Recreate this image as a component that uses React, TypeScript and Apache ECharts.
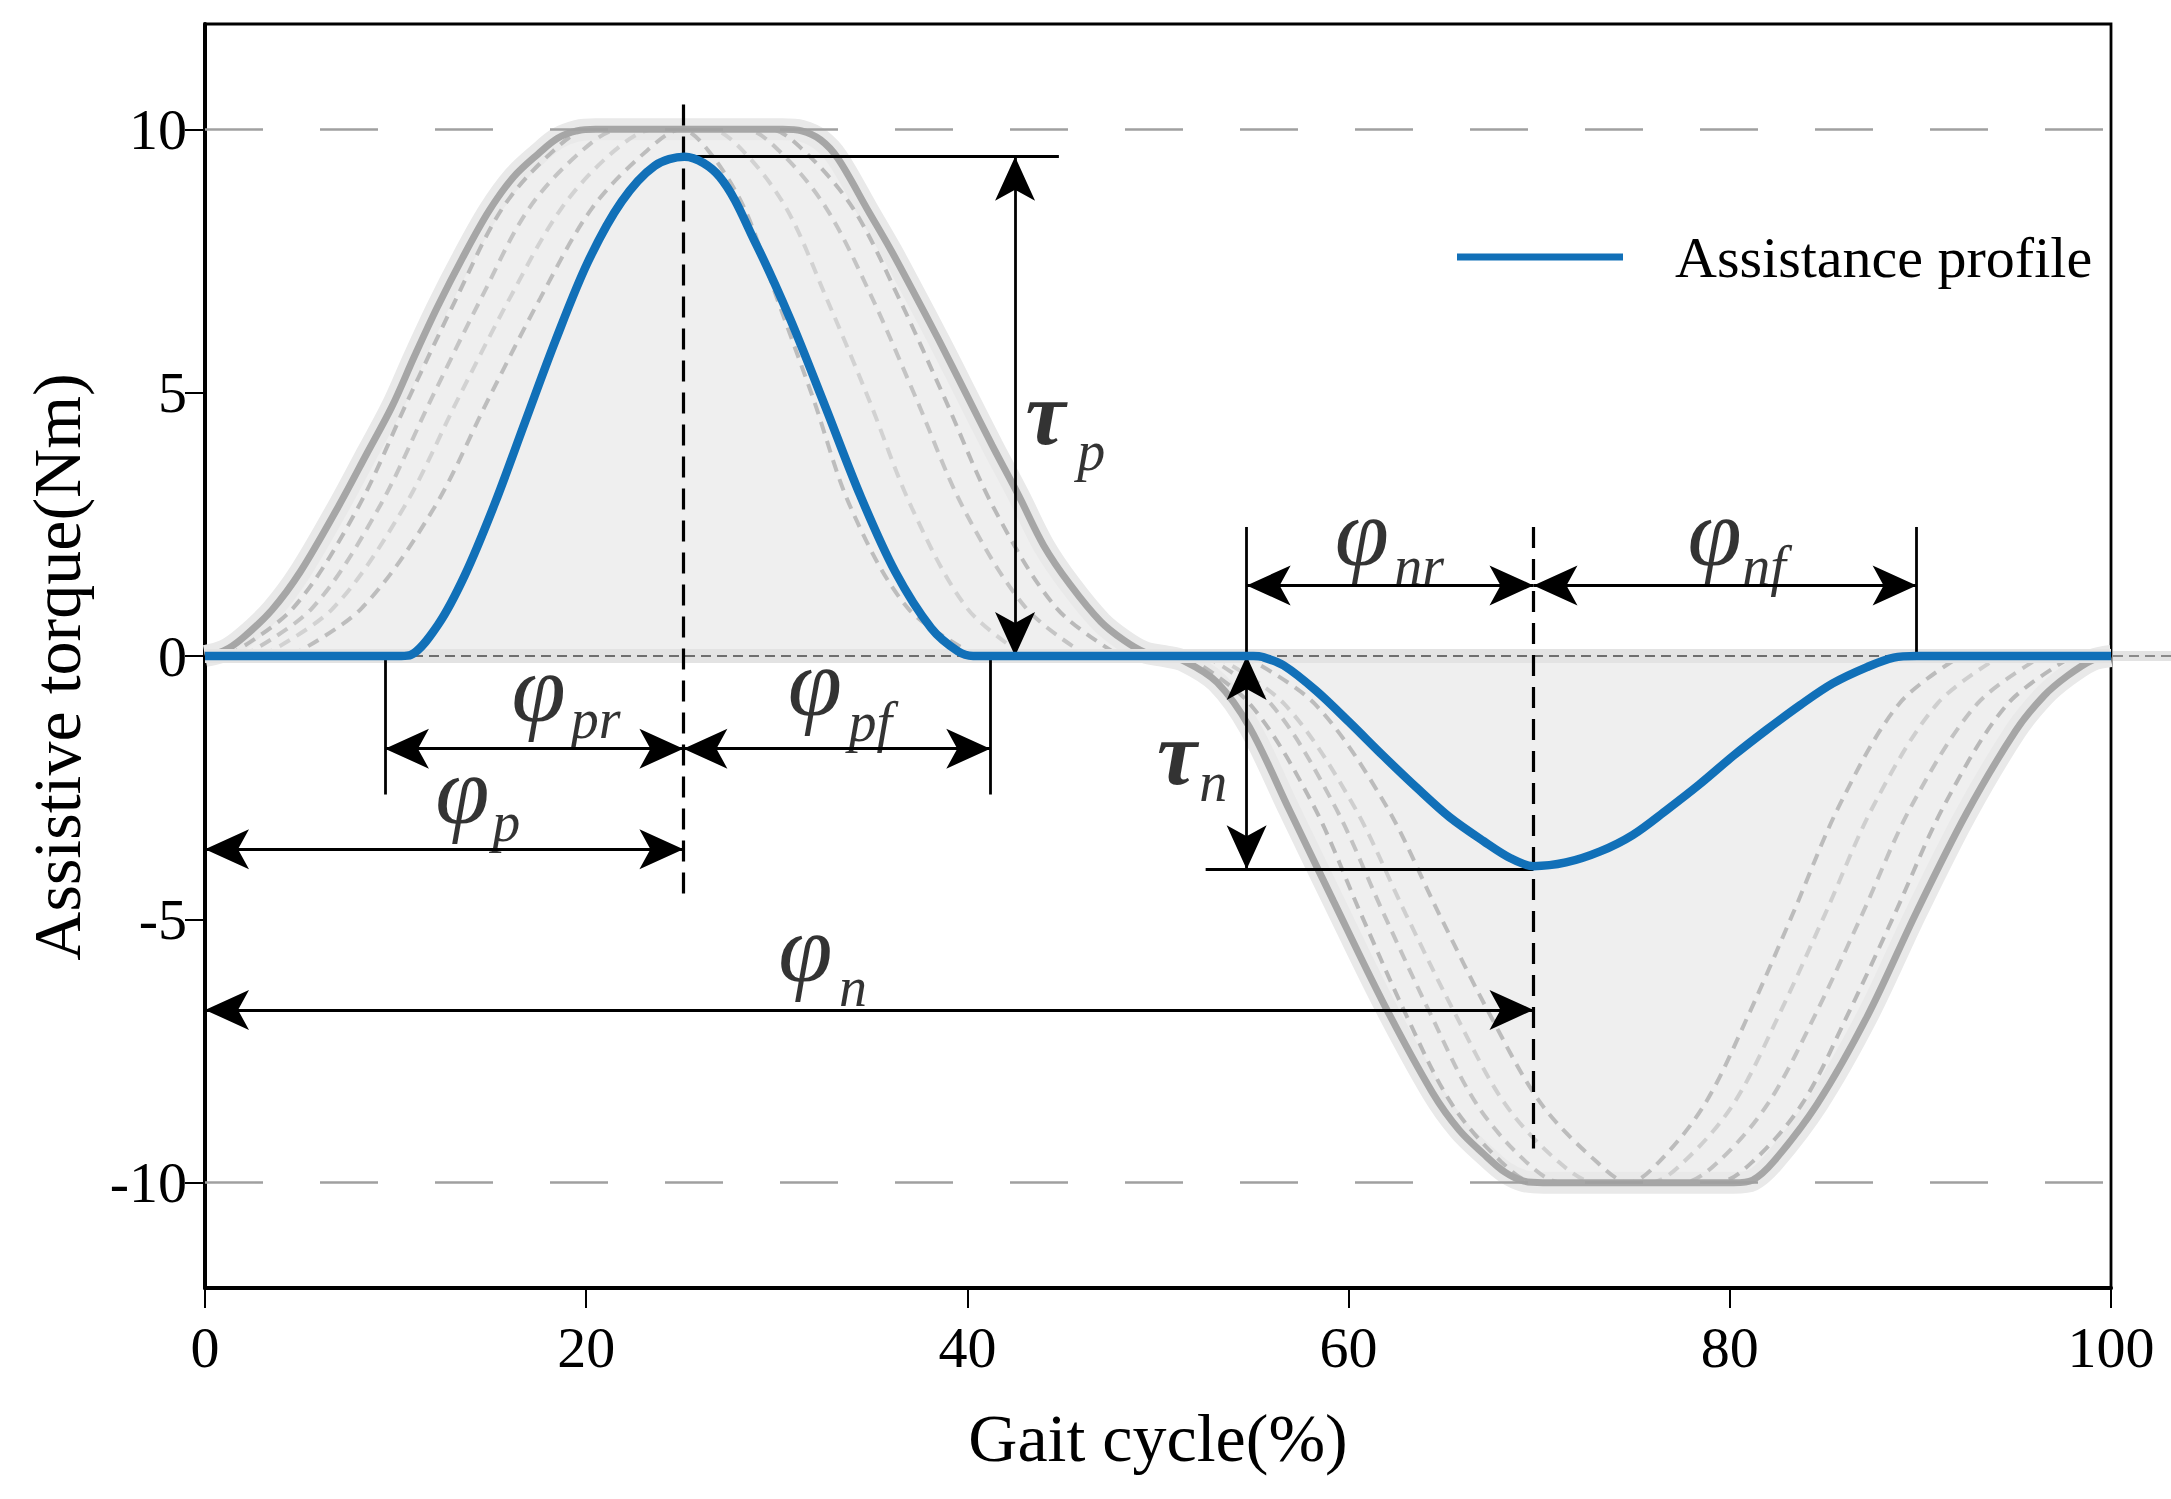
import React, { useEffect, useRef } from 'react';
import * as echarts from 'echarts';

const FONT = "'Times New Roman', 'Liberation Serif', serif";

const xTicks = [0, 20, 40, 60, 80, 100];
const yTicks = [-10, -5, 0, 5, 10];

// Assistance profile (blue)
const assistance = [
  [0, 0], [9.5, 0], [10.3, 0], [10.8, 0.02], [12.24, 0.6], [13.64, 1.54], [15.2, 2.89], [16.8, 4.45], [18.4, 6.0],
  [20.1, 7.49], [21.86, 8.63], [23.6, 9.31], [25.15, 9.48], [27.0, 9.1], [28.9, 7.83], [30.7, 6.4],
  [32.55, 4.73], [34.4, 3.03], [36.2, 1.61], [38.1, 0.53], [39.5, 0.09], [40.3, 0], [41.0, 0],
  [54.2, 0], [55.0, 0], [55.5, -0.02], [56.6, -0.18], [58.3, -0.66], [60.1, -1.28], [61.8, -1.89], [63.6, -2.51],
  [65.3, -3.06], [67.1, -3.52], [68.5, -3.84], [69.7, -3.99], [71.4, -3.92], [73.2, -3.71],
  [74.9, -3.4], [76.7, -2.92], [78.4, -2.44], [80.2, -1.89], [81.9, -1.41], [83.7, -0.93],
  [85.4, -0.52], [87.2, -0.21], [88.6, -0.03], [89.8, 0], [90.5, 0], [100, 0],
];

// Outer envelope of the admissible profiles (solid grey)
const envelope = [
  [0, 0], [1, 0.1], [2, 0.35], [3.5, 0.87], [5, 1.6], [7, 2.84], [8.5, 3.85], [9.8, 4.73], [11, 5.7],
  [12.2, 6.63], [13.5, 7.55], [14.9, 8.45], [16.2, 9.1], [17.5, 9.54], [18.5, 9.83], [19.5, 9.97],
  [20.5, 10], [30.3, 10], [31.3, 9.97], [32.3, 9.8], [33.2, 9.45], [34.8, 8.45], [36, 7.7],
  [37.1, 6.96], [38.5, 6.0], [39.9, 5.0], [41.3, 4.0], [42.7, 3.04], [44, 2.1], [45.4, 1.35],
  [47, 0.65], [48.2, 0.3], [49.3, 0.07], [50.3, 0], [51.4, -0.1], [53.1, -0.5], [54.8, -1.35],
  [56.9, -2.93], [59.2, -4.65], [61.8, -6.57], [64.4, -8.29], [65.8, -9.0], [67.1, -9.46],
  [68.2, -9.8], [69.2, -9.97], [70.2, -10], [80.2, -10], [81.2, -9.95], [82.3, -9.6], [84.6, -8.5],
  [87.2, -6.85], [89.8, -4.86], [92.4, -3.0], [95, -1.42], [96.5, -0.75], [97.7, -0.38],
  [99, -0.08], [100, 0],
];

// Sample profiles (dashed grey)
const dashedUp1 = [[1.2, 0], [4.6, 0.9], [8.0, 2.8], [10.7, 4.9], [13.2, 6.8], [15.6, 8.5], [18.3, 9.6], [20.2, 10], [29.6, 10], [31.4, 9.6], [34.0, 8.5], [36.4, 6.8], [38.8, 4.9], [41.4, 2.8], [44.7, 0.9], [48, 0]];
const dashedUp2 = [[2, 0], [5.6, 0.9], [9.1, 2.8], [11.9, 4.9], [14.5, 6.8], [17.0, 8.5], [19.8, 9.6], [21.8, 10], [28.3, 10], [30.1, 9.6], [32.6, 8.5], [35.0, 6.8], [37.3, 4.9], [39.8, 2.8], [43.1, 0.9], [46.3, 0]];
const dashedUp3 = [[3, 0], [6.7, 0.9], [10.4, 2.8], [13.3, 4.9], [16.0, 6.8], [18.7, 8.5], [21.5, 9.6], [23.6, 10], [26.5, 10], [28.2, 9.6], [30.5, 8.5], [32.6, 6.8], [34.8, 4.9], [37.1, 2.8], [40.0, 0.9], [43.0, 0]];
const dashedUp4 = [[4.5, 0], [8.2, 0.9], [12.0, 2.8], [14.9, 4.9], [17.6, 6.8], [20.3, 8.5], [23.2, 9.6], [25, 10], [26.4, 9.6], [28.3, 8.5], [30.0, 6.8], [31.9, 4.9], [33.9, 2.8], [36.9, 0.9], [40.5, 0]];
const dashedDown1 = [[51.5, 0], [54.8, -0.9], [58.1, -2.8], [60.65, -4.9], [63.0, -6.8], [65.4, -8.5], [68.0, -9.6], [69.8, -10], [79.3, -10], [81.2, -9.6], [83.8, -8.5], [86.2, -6.8], [88.65, -4.9], [91.3, -2.8], [94.6, -0.9], [98, 0]];
const dashedDown2 = [[52.5, 0], [55.9, -0.9], [59.2, -2.8], [61.85, -4.9], [64.3, -6.8], [66.7, -8.5], [69.3, -9.6], [71.2, -10], [77.5, -10], [79.4, -9.6], [82.0, -8.5], [84.5, -6.8], [86.95, -4.9], [89.6, -2.8], [93.0, -0.9], [96.4, 0]];
const dashedDown3 = [[53, 0], [56.6, -0.9], [60.2, -2.8], [63.0, -4.9], [65.6, -6.8], [68.2, -8.5], [71.0, -9.6], [73.0, -10], [75.8, -10], [77.6, -9.6], [80.2, -8.5], [82.6, -6.8], [85.0, -4.9], [87.6, -2.8], [90.9, -0.9], [94.2, 0]];
const dashedDown4 = [[54.5, 0], [58.2, -0.9], [61.9, -2.8], [64.75, -4.9], [67.4, -6.8], [70.1, -8.5], [73.0, -9.6], [74.7, -10], [76.3, -9.6], [78.7, -8.5], [81.0, -6.8], [83.3, -4.9], [85.8, -2.8], [88.9, -0.9], [92.1, 0]];
const dashedProfiles = [dashedUp1, dashedUp2, dashedUp3, dashedUp4, dashedDown1, dashedDown2, dashedDown3, dashedDown4];
const dashedColors = ['#b9b9b9', '#c4c4c4', '#d2d2d2', '#bdbdbd', '#b8b8b8', '#c2c2c2', '#cfcfcf', '#bcbcbc'];

// Annotation geometry (data coordinates): [x1, y1, x2, y2]
const doubleArrows = [
  [42.5, 9.48, 42.5, 0],      // tau_p
  [9.44, -1.76, 25.1, -1.76], // phi_pr
  [25.1, -1.76, 41.2, -1.76], // phi_pf
  [0, -3.67, 25.1, -3.67],    // phi_p
  [0, -6.72, 69.7, -6.72],    // phi_n
  [54.65, 0, 54.65, -4.05],   // tau_n
  [54.65, 1.34, 69.7, 1.34],  // phi_nr
  [69.7, 1.34, 89.8, 1.34],   // phi_nf
];
const plainLines = [
  [25.2, 9.48, 44.8, 9.48],
  [52.5, -4.05, 69.7, -4.05],
  [9.44, 0, 9.44, -2.63],
  [41.2, 0, 41.2, -2.63],
  [54.65, 2.45, 54.65, 0],
  [89.8, 2.45, 89.8, 0],
];
const dashedGuides = [
  [25.1, 10.47, 25.1, -4.57],
  [69.7, 2.45, 69.7, -9.35],
];

// Labels: [text, x, y, bold]
const mainSymbols: [string, number, number, boolean][] = [
  ['τ', 44.1, 4.6, true],
  ['φ', 17.5, -0.6, false],
  ['φ', 32.0, -0.5, false],
  ['φ', 13.5, -2.55, false],
  ['φ', 31.5, -5.55, false],
  ['τ', 51.0, -1.85, true],
  ['φ', 60.7, 2.35, false],
  ['φ', 79.2, 2.35, false],
];
const subSymbols: [string, number, number][] = [
  ['p', 46.5, 3.9],
  ['pr', 20.5, -1.2],
  ['pf', 34.9, -1.25],
  ['p', 15.8, -3.15],
  ['n', 34.0, -6.28],
  ['n', 52.9, -2.39],
  ['nr', 63.7, 1.7],
  ['nf', 81.8, 1.7],
];

const ARW: [number, number] = [30, 44];
const arrowEnd = (x: number, y: number) => ({ coord: [x, y], symbol: 'arrow', symbolSize: ARW });
const plainEnd = (x: number, y: number) => ({ coord: [x, y], symbol: 'none' });

export default function App() {
  const ref = useRef<HTMLDivElement>(null);
  useEffect(() => {
    if (!ref.current) return;
    const chart = echarts.init(ref.current, null, { renderer: 'svg' });

    const axisLabel = { fontFamily: FONT, fontSize: 58, color: '#000' };
    const SMOOTH = 0.33;

    const series: any[] = [];
    series.push({
      type: 'line', data: envelope, smooth: SMOOTH, symbol: 'none', silent: true, z: 1,
      lineStyle: { color: '#e9e9e9', width: 22 },
      areaStyle: { color: '#efefef', opacity: 1 },
    });
    series.push({
      type: 'line', data: [], z: 2, silent: true,
      markLine: {
        silent: true, symbol: ['none', 'none'], label: { show: false }, animation: false,
        data: [
          { yAxis: 0, lineStyle: { color: '#e3e3e3', width: 14, type: 'solid' } },
          { yAxis: 10, lineStyle: { color: '#a0a0a0', width: 2.5, type: [58, 57] } },
          { yAxis: -10, lineStyle: { color: '#a0a0a0', width: 2.5, type: [58, 57] } },
        ],
      },
    });
    dashedProfiles.forEach((d, i) => {
      series.push({
        type: 'line', data: d, smooth: SMOOTH, symbol: 'none', silent: true, z: 3,
        lineStyle: { color: dashedColors[i], width: 4, type: [12, 8] },
      });
    });
    series.push({
      type: 'line', data: envelope, smooth: SMOOTH, symbol: 'none', silent: true, z: 4,
      lineStyle: { color: '#a6a6a6', width: 7 },
    });
    series.push({
      type: 'line', data: [], z: 5, silent: true,
      markLine: {
        silent: true, symbol: ['none', 'none'], label: { show: false }, animation: false,
        data: [{ yAxis: 0, lineStyle: { color: '#6e6e6e', width: 2, type: [10, 6] } }],
      },
    });
    series.push({
      name: 'Assistance profile', type: 'line', data: assistance, smooth: SMOOTH, symbol: 'none', z: 6,
      lineStyle: { color: '#1170b8', width: 8.5 }, itemStyle: { color: '#1170b8' },
    });
    series.push({
      type: 'line', data: [], z: 7, silent: true,
      markLine: {
        silent: true, symbol: ['none', 'none'], label: { show: false }, animation: false,
        lineStyle: { color: '#000', width: 2.8, type: 'solid' },
        data: [
          ...doubleArrows.map((a) => [arrowEnd(a[0], a[1]), arrowEnd(a[2], a[3])]),
          ...plainLines.map((a) => [plainEnd(a[0], a[1]), plainEnd(a[2], a[3])]),
          ...dashedGuides.map((a) => [
            { ...plainEnd(a[0], a[1]), lineStyle: { type: [21, 11], width: 3.2, color: '#000' } },
            plainEnd(a[2], a[3]),
          ]),
        ],
      },
    });
    series.push({
      type: 'scatter', symbolSize: 0, z: 8, silent: true,
      data: mainSymbols.map((m) => ({
        value: [m[1], m[2]],
        label: {
          show: true, position: 'inside', formatter: m[0], fontFamily: FONT, fontStyle: 'italic',
          fontWeight: m[3] ? 'bold' : 'normal', fontSize: m[3] ? 90 : 98, color: '#000',
        },
      })),
    });
    series.push({
      type: 'scatter', symbolSize: 0, z: 8, silent: true,
      data: subSymbols.map((m) => ({
        value: [m[1], m[2]],
        label: {
          show: true, position: 'inside', formatter: m[0], fontFamily: FONT, fontStyle: 'italic',
          fontSize: 56, color: '#000',
        },
      })),
    });

    chart.setOption({
      animation: false,
      backgroundColor: '#fff',
      grid: { left: 205, right: 60, top: 24, bottom: 211, show: true, borderColor: '#000', borderWidth: 2.8, backgroundColor: 'transparent' },
      legend: {
        data: [{ name: 'Assistance profile', icon: 'rect' }],
        left: 1457, top: 228, itemWidth: 166, itemHeight: 7, padding: 0, selectedMode: false,
        textStyle: { fontFamily: FONT, fontSize: 58, color: '#000', padding: [0, 0, 0, 47] },
      },
      xAxis: {
        type: 'value', min: 0, max: 100, interval: 20,
        name: 'Gait cycle(%)', nameLocation: 'middle', nameGap: 116,
        nameTextStyle: { fontFamily: FONT, fontSize: 68, color: '#000' },
        axisLine: { show: true, onZero: false, lineStyle: { color: '#000', width: 4 } },
        axisTick: { show: true, length: 20, lineStyle: { color: '#000', width: 2 }, customValues: xTicks },
        axisLabel: { ...axisLabel, margin: 30, customValues: xTicks },
        splitLine: { show: false },
      },
      yAxis: {
        type: 'value', min: -12, max: 12,
        name: 'Assistive torque(Nm)', nameLocation: 'middle', nameGap: 114,
        nameTextStyle: { fontFamily: FONT, fontSize: 68, color: '#000', padding: [0, 22, 0, 0] },
        axisLine: { show: true, onZero: false, lineStyle: { color: '#000', width: 4 } },
        axisTick: { show: true, length: 20, lineStyle: { color: '#000', width: 2 }, customValues: yTicks },
        axisLabel: { ...axisLabel, margin: 18, customValues: yTicks },
        splitLine: { show: false },
      },
      series,
    });

    // zero reference line continues past the right frame to the page edge
    const p = chart.convertToPixel({ gridIndex: 0 }, [100, 0]) as number[];
    if (p) {
      chart.setOption({
        graphic: [
          { type: 'line', shape: { x1: p[0] + 2, y1: p[1], x2: 2171, y2: p[1] }, style: { stroke: '#e3e3e3', lineWidth: 10 }, silent: true, z: 1 },
          { type: 'line', shape: { x1: p[0] + 2, y1: p[1], x2: 2171, y2: p[1] }, style: { stroke: '#8a8a8a', lineWidth: 2, lineDash: [10, 6] }, silent: true, z: 2 },
        ],
      });
    }
    return () => chart.dispose();
  }, []);
  return <div ref={ref} style={{ position: 'absolute', left: 0, top: 0, width: 2171, height: 1499 }} />;
}
